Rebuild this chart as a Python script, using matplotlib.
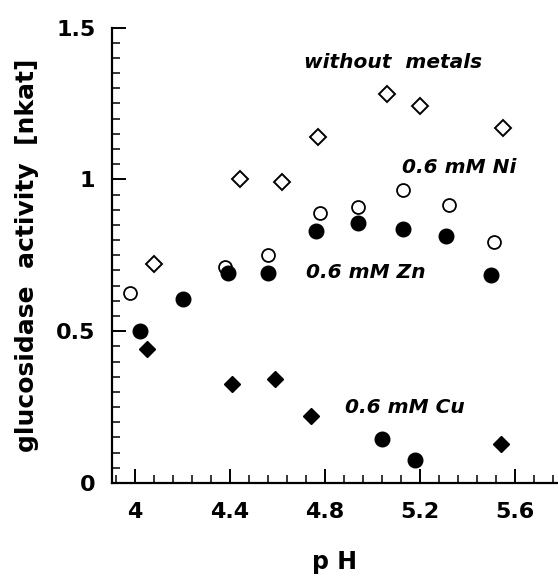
import numpy as np
import matplotlib
matplotlib.use('Agg')
import matplotlib.pyplot as plt
from matplotlib.ticker import MultipleLocator

# pH / activity values
ph_none = [4.08, 4.44, 4.62, 4.77, 5.06, 5.20, 5.55]
act_none = [0.72, 1.00, 0.99, 1.14, 1.28, 1.24, 1.17]

ph_ni = [3.98, 4.38, 4.56, 4.78, 4.94, 5.13, 5.32, 5.51]
act_ni = [0.625, 0.71, 0.75, 0.89, 0.91, 0.965, 0.915, 0.795]

ph_zn = [4.02, 4.20, 4.39, 4.56, 4.76, 4.94, 5.13, 5.31, 5.50, 5.04, 5.18]
act_zn = [0.50, 0.607, 0.69, 0.69, 0.83, 0.857, 0.835, 0.813, 0.685, 0.145, 0.076]

ph_cu = [4.05, 4.41, 4.59, 4.74, 5.54]
act_cu = [0.44, 0.327, 0.343, 0.222, 0.129]

labels = ['without  metals', '0.6 mM Ni', '0.6 mM Zn', '0.6 mM Cu']
label_x = [5.086, 5.366, 4.970, 5.135]
label_y = [1.386, 1.040, 0.693, 0.249]

plt.rcParams['font.family'] = ['DejaVu Sans']

fig = plt.figure(figsize=(5.58, 5.83), dpi=100)
ax = fig.add_axes([0.2007, 0.1715, 0.7993, 0.7813])

ax.plot(ph_none, act_none, 'D', ms=8.5, mfc='white', mec='black', mew=1.4, ls='none')
ax.plot(ph_ni, act_ni, 'o', ms=9.3, mfc='white', mec='black', mew=1.3, ls='none')
ax.plot(ph_zn, act_zn, 'o', ms=10.5, mfc='black', mec='black', ls='none')
ax.plot(ph_cu, act_cu, 'D', ms=8.5, mfc='black', mec='black', ls='none')

for t, x, y in zip(labels, label_x, label_y):
    ax.text(x, y, t, ha='center', va='center', fontsize=14.5, style='italic', fontweight='bold')

ax.set_xlim(3.903, 5.781)
ax.set_ylim(0, 1.5)
ax.xaxis.set_major_locator(MultipleLocator(0.4))
ax.xaxis.set_minor_locator(MultipleLocator(0.08))
ax.yaxis.set_major_locator(MultipleLocator(0.5))
ax.yaxis.set_minor_locator(MultipleLocator(0.05))
ax.set_xticks([4.0, 4.4, 4.8, 5.2, 5.6])
ax.set_xticklabels(['4', '4.4', '4.8', '5.2', '5.6'])
ax.set_yticks([0, 0.5, 1.0, 1.5])
ax.set_yticklabels(['0', '0.5', '1', '1.5'])

ax.spines['top'].set_visible(False)
ax.spines['right'].set_visible(False)
ax.spines['left'].set_linewidth(1.6)
ax.spines['bottom'].set_linewidth(1.6)
ax.tick_params(which='major', direction='in', length=10, width=1.4, labelsize=16, pad=14)
ax.tick_params(which='minor', direction='in', length=5.5, width=1.1)
ax.tick_params(axis='y', which='major', pad=12)
for lab in ax.get_xticklabels() + ax.get_yticklabels():
    lab.set_fontweight('bold')

ax.set_xlabel('p H', fontsize=17, fontweight='bold', labelpad=20)
ax.set_ylabel('glucosidase  activity  [nkat]', fontsize=18, fontweight='bold', labelpad=12)

fig.savefig('out.png', dpi=100)
